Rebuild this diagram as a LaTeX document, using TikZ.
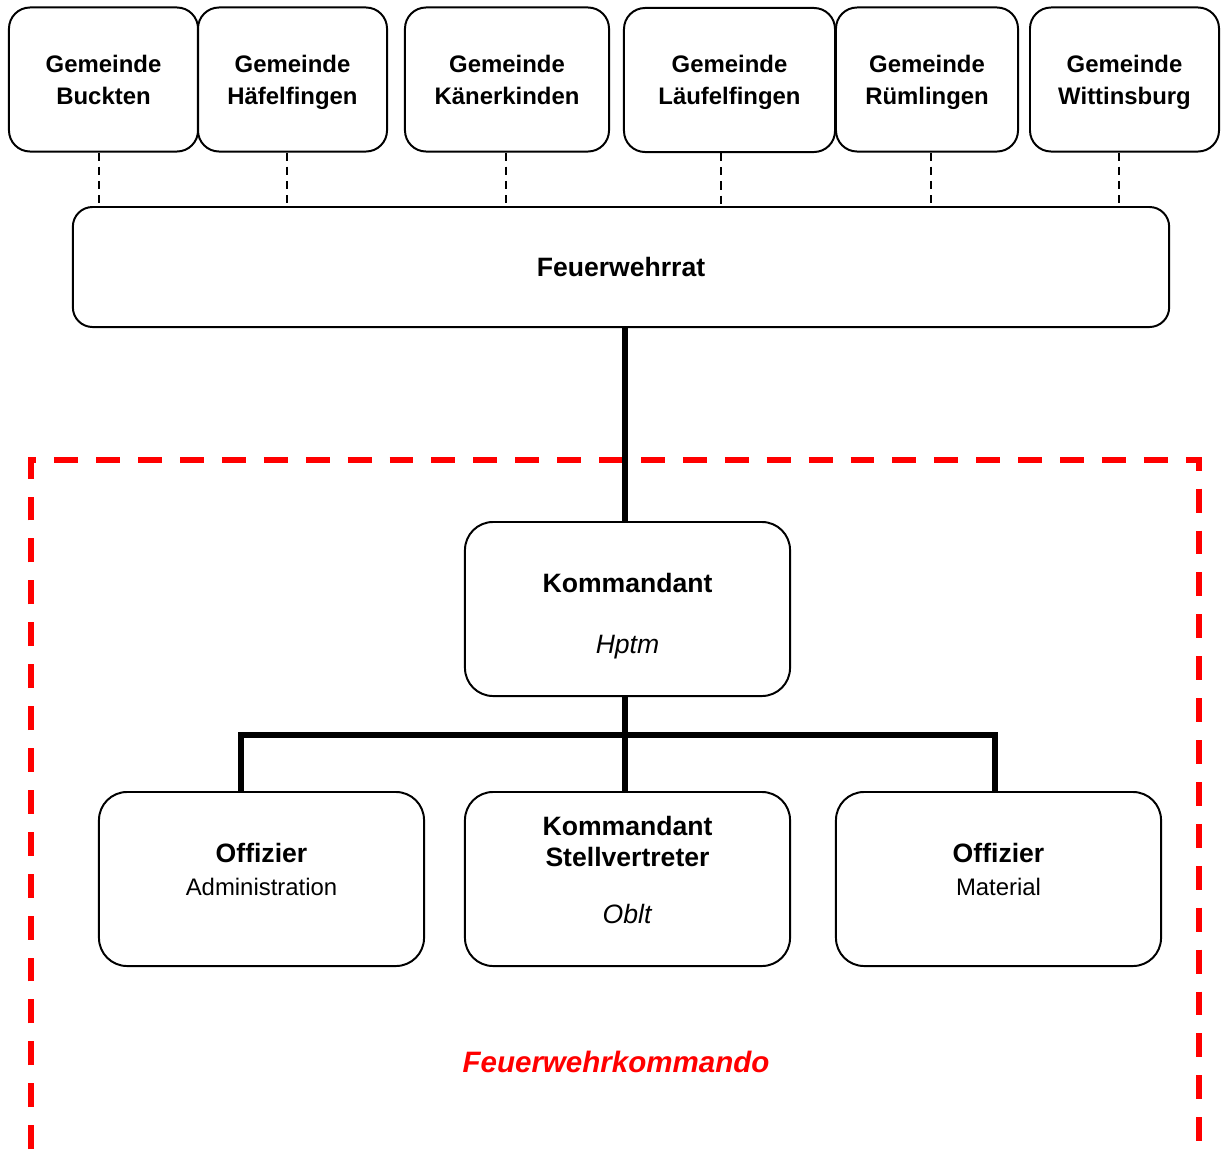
\documentclass[tikz,border=0pt]{standalone}
\usepackage{fontspec}
\setmainfont{Liberation Sans}
\usepackage{tikz}

\tikzset{
  gem/.style={draw, line width=1.4pt, rounded corners=15pt, minimum width=#1, minimum height=3.6cm,
    align=center, text depth=0pt, font=\fontsize{17}{22.8}\selectfont\bfseries},
  bigbox/.style={draw, line width=1.4pt, rounded corners=20pt, minimum width=8.125cm, minimum height=4.35cm},
  boxtext/.style={align=center, font=\fontsize{18.9}{22}\selectfont},
  conn/.style={line width=3.6pt},
  link/.style={line width=1.4pt, dash pattern=on 5.8pt off 4.3pt},
  kdo/.style={red, line width=4.3pt, dash pattern=on 17pt off 12.8pt, dash phase=14.9pt}
}

\begin{document}
\begin{tikzpicture}[x=0.025cm, y=-0.025cm]
 			\useasboundingbox (0,0) rectangle (1221,1157);
 			\node[gem=4.725cm] (buc) at (103.5,79.5) {Gemeinde\\Buckten};
 			\node[gem=4.725cm] (haf) at (292.5,79.5) {Gemeinde\\Häfelfingen};
 			\node[gem=5.1cm] (kan) at (507,79.5) {Gemeinde\\Känerkinden};
 			\node[gem=5.275cm] (lau) at (729.5,80) {Gemeinde\\Läufelfingen};
 			\node[gem=4.55cm] (rum) at (927,79.5) {Gemeinde\\Rümlingen};
 			\node[gem=4.725cm] (wit) at (1124.5,79.5) {Gemeinde\\Wittinsburg};
 			\node[draw, line width=1.4pt, rounded corners=14pt, minimum width=27.4cm, minimum height=3cm,
 			  font=\fontsize{18.9}{22}\selectfont\bfseries] (rat) at (621,267) {Feuerwehrrat};
 			\draw[link] (99,0 |- buc.south) -- (99,0 |- rat.north);
 			\draw[link] (287,0 |- haf.south) -- (287,0 |- rat.north);
 			\draw[link] (506,0 |- kan.south) -- (506,0 |- rat.north);
 			\draw[link] (721,0 |- lau.south) -- (721,0 |- rat.north);
 			\draw[link] (931,0 |- rum.south) -- (931,0 |- rat.north);
 			\draw[link] (1119,0 |- wit.south) -- (1119,0 |- rat.north);
 			\draw[kdo] (31,1170) -- (31,460) -- (1199,460) -- (1199,1170);
 			\node[bigbox] (kdt) at (627.5,609) {};
 			\node[bigbox] (adm) at (261.5,879) {};
 			\node[bigbox] (stv) at (627.5,879) {};
 			\node[bigbox] (mat) at (998.5,879) {};
 			\node[boxtext] (kdttext) at (627.5,616) {\textbf{Kommandant}\\[21pt]\textit{Hptm}};
 			\node[boxtext] (admtext) at (261.5,869.5) {\textbf{Offizier}\\[2pt]\fontsize{17}{24}\selectfont Administration};
 			\node[boxtext] (stvtext) at (627.5,870) {\textbf{Kommandant}\\\textbf{Stellvertreter}\\[18pt]\textit{Oblt}};
 			\node[boxtext] (mattext) at (998.5,869.5) {\textbf{Offizier}\\[2pt]\fontsize{17}{24}\selectfont Material};
 			\coordinate (stem) at (625,735);
 			\coordinate (busL) at (241,735);
 			\coordinate (busR) at (995,735);
 			\draw[conn] (stem |- rat.south) -- (stem |- kdt.north);
 			\draw[conn] (stem |- kdt.south) -- (stem |- stv.north);
 			\draw[conn] (busL |- adm.north) -- (busL) -- (busR) -- (busR |- mat.north);
 			\node[red, font=\fontsize{21}{25}\selectfont\bfseries\itshape] (fwk) at (616,1062) {Feuerwehrkommando};
 		\end{tikzpicture}
\end{document}
